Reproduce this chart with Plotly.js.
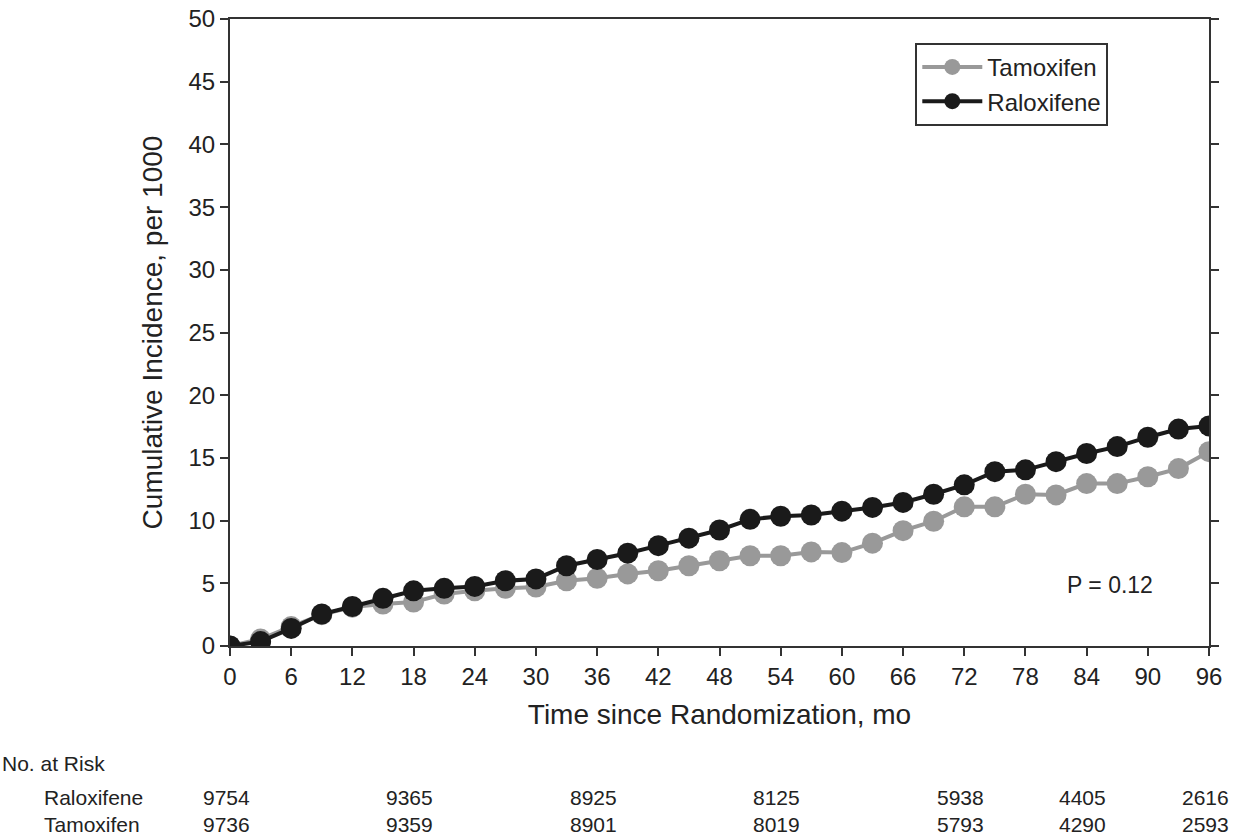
<!DOCTYPE html>
<html>
<head>
<meta charset="utf-8">
<script src="https://cdn.plot.ly/plotly-3.0.1.min.js"></script>
<style>html,body{margin:0;padding:0;background:#fff;}#chart{width:1243px;height:835px;}</style>
</head>
<body>
<div id="chart"></div>
<script>
// Months since randomization (every 3 months)
const months = [0,3,6,9,12,15,18,21,24,27,30,33,36,39,42,45,48,51,54,57,60,63,66,69,72,75,78,81,84,87,90,93,96];
// Cumulative incidence per 1000
const raloxifene = [0,0.35,1.4,2.55,3.15,3.8,4.4,4.6,4.75,5.2,5.35,6.4,6.9,7.4,8.0,8.6,9.25,10.1,10.35,10.45,10.75,11.05,11.45,12.1,12.85,13.9,14.05,14.7,15.35,15.9,16.65,17.3,17.55];
const tamoxifen  = [0,0.55,1.55,2.5,3.1,3.35,3.5,4.15,4.4,4.6,4.7,5.2,5.4,5.75,6.0,6.4,6.8,7.2,7.2,7.5,7.45,8.2,9.2,9.95,11.1,11.1,12.1,12.05,12.95,12.95,13.5,14.15,15.5];
// Number at risk table
const riskTimes = [0,18,36,54,72,84,96];
const riskRaloxifene = [9754,9365,8925,8125,5938,4405,2616];
const riskTamoxifen  = [9736,9359,8901,8019,5793,4290,2593];
const xTicks = [0,6,12,18,24,30,36,42,48,54,60,66,72,78,84,90,96];
const yTicks = [0,5,10,15,20,25,30,35,40,45,50];
const pValueText = "P = 0.12";

const FONT = "Liberation Sans, Arial, sans-serif";
const GRAY = "#999999";
const BLACK = "#1a1a1a";
const TXT = "#222";

const traces = [
  {x: months, y: tamoxifen, name: "Tamoxifen", mode: "lines+markers",
   line: {color: GRAY, width: 4}, marker: {color: GRAY, size: 21}},
  {x: months, y: raloxifene, name: "Raloxifene", mode: "lines+markers",
   line: {color: BLACK, width: 4}, marker: {color: BLACK, size: 21}}
];

const annotations = [
  {text: pValueText, x: 86.3, y: 4.9, xref: "x", yref: "y", showarrow: false,
   font: {family: FONT, size: 23, color: TXT}},
  {text: "No. at Risk", x: -0.235, y: -0.187, xref: "paper", yref: "paper",
   xanchor: "left", yanchor: "middle", showarrow: false, font: {family: FONT, size: 21, color: TXT}},
  {text: "Raloxifene", x: -0.192, y: -0.241, xref: "paper", yref: "paper",
   xanchor: "left", yanchor: "middle", showarrow: false, font: {family: FONT, size: 21, color: TXT}},
  {text: "Tamoxifen", x: -0.192, y: -0.284, xref: "paper", yref: "paper",
   xanchor: "left", yanchor: "middle", showarrow: false, font: {family: FONT, size: 21, color: TXT}}
];
riskTimes.forEach((t, i) => {
  annotations.push({text: String(riskRaloxifene[i]), x: t, y: -0.241, xref: "x", yref: "paper",
    xanchor: "center", yanchor: "middle", xshift: -4, showarrow: false, font: {family: FONT, size: 21, color: TXT}});
  annotations.push({text: String(riskTamoxifen[i]), x: t, y: -0.284, xref: "x", yref: "paper",
    xanchor: "center", yanchor: "middle", xshift: -4, showarrow: false, font: {family: FONT, size: 21, color: TXT}});
});

const layout = {
  width: 1243, height: 835,
  margin: {l: 230, r: 34, t: 19, b: 189},
  paper_bgcolor: "#fff", plot_bgcolor: "#fff",
  font: {family: FONT, color: TXT, size: 22},
  showlegend: true,
  legend: {x: 0.70, y: 0.962, xanchor: "left", yanchor: "top",
    bordercolor: "#333", borderwidth: 2, bgcolor: "#fff",
    font: {family: FONT, size: 24, color: TXT}, itemwidth: 60},
  xaxis: {range: [0, 96], tickvals: xTicks, ticks: "outside", ticklen: 8, tickwidth: 2,
    tickcolor: "#333", showline: true, linecolor: "#333", linewidth: 2, mirror: true,
    showgrid: false, zeroline: false, tickfont: {family: FONT, size: 24, color: TXT},
    title: {text: "Time since Randomization, mo", font: {family: FONT, size: 28, color: TXT}, standoff: 16}},
  yaxis: {range: [0, 50], tickvals: yTicks, ticks: "outside", ticklen: 8, tickwidth: 2,
    tickcolor: "#333", showline: true, linecolor: "#333", linewidth: 2, mirror: "ticks",
    showgrid: false, zeroline: false, tickfont: {family: FONT, size: 24, color: TXT},
    title: {text: "Cumulative Incidence, per 1000", font: {family: FONT, size: 28, color: TXT}, standoff: 18}},
  annotations: annotations
};

Plotly.newPlot("chart", traces, layout, {displayModeBar: false, staticPlot: true});
</script>
</body>
</html>
